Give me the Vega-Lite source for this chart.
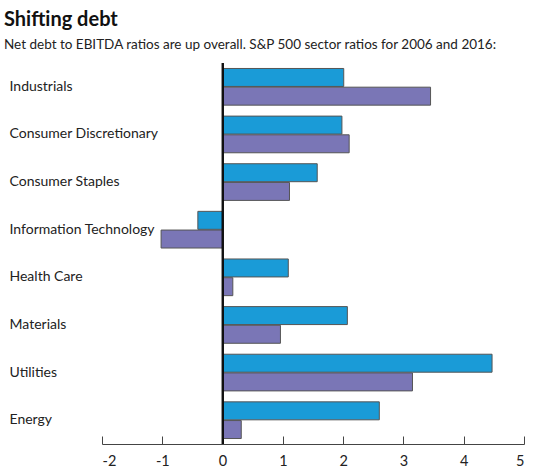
{
  "$schema": "https://vega.github.io/schema/vega-lite/v6.json",
  "width": 422,
  "height": 381,
  "autosize": "none",
  "padding": {"left": 102, "top": 63, "right": 20, "bottom": 28},
  "background": "white",
  "title": {
    "text": "Shifting debt",
    "subtitle": "Net debt to EBITDA ratios are up overall.  S&P 500 sector ratios for 2006 and 2016:",
    "anchor": "start",
    "frame": "group",
    "dx": -98,
    "offset": 11,
    "font": "Lato",
    "fontSize": 20,
    "fontWeight": "bold",
    "color": "#111111",
    "subtitleFont": "Lato",
    "subtitleFontSize": 13.5,
    "subtitleColor": "#222222",
    "subtitlePadding": 8
  },
  "config": {"view": {"stroke": null}},
  "data": {
    "values": [
      {"sector": "Industrials", "year": "2016", "value": 2.01},
      {"sector": "Industrials", "year": "2006", "value": 3.45},
      {"sector": "Consumer Discretionary", "year": "2016", "value": 1.98},
      {"sector": "Consumer Discretionary", "year": "2006", "value": 2.1},
      {"sector": "Consumer Staples", "year": "2016", "value": 1.57},
      {"sector": "Consumer Staples", "year": "2006", "value": 1.11},
      {"sector": "Information Technology", "year": "2016", "value": -0.41},
      {"sector": "Information Technology", "year": "2006", "value": -1.02},
      {"sector": "Health Care", "year": "2016", "value": 1.09},
      {"sector": "Health Care", "year": "2006", "value": 0.17},
      {"sector": "Materials", "year": "2016", "value": 2.07},
      {"sector": "Materials", "year": "2006", "value": 0.96},
      {"sector": "Utilities", "year": "2016", "value": 4.47},
      {"sector": "Utilities", "year": "2006", "value": 3.15},
      {"sector": "Energy", "year": "2016", "value": 2.6},
      {"sector": "Energy", "year": "2006", "value": 0.31}
    ]
  },
  "encoding": {
    "x": {
      "field": "value",
      "type": "quantitative",
      "scale": {"domain": [-2, 5], "nice": false, "zero": false},
      "axis": {
        "title": null,
        "values": [-2, -1, 0, 1, 2, 3, 4, 5],
        "labelExpr": "'' + datum.value",
        "grid": false,
        "domainColor": "#444444",
        "tickColor": "#444444",
        "tickSize": -8,
        "labelPadding": 18,
        "labelFont": "Lato",
        "labelFontSize": 14.5,
        "labelColor": "#222222"
      }
    }
  },
  "layer": [
    {
      "mark": {"type": "bar", "stroke": "#555555", "strokeWidth": 1},
      "encoding": {
        "y": {
          "field": "sector",
          "type": "nominal",
          "sort": ["Industrials", "Consumer Discretionary", "Consumer Staples", "Information Technology", "Health Care", "Materials", "Utilities", "Energy"],
          "scale": {"paddingInner": 0.23, "paddingOuter": 0.115},
          "axis": {
            "title": null,
            "ticks": false,
            "domain": false,
            "labelAlign": "left",
            "labelPadding": 93,
            "labelFont": "Lato",
            "labelFontSize": 14,
            "labelColor": "#222222",
            "labelLimit": 200
          }
        },
        "yOffset": {"field": "year", "type": "nominal", "sort": ["2016", "2006"], "scale": {"paddingInner": 0.04}},
        "color": {
          "field": "year",
          "type": "nominal",
          "scale": {"domain": ["2006", "2016"], "range": ["#7a76b6", "#1a9bd7"]},
          "legend": null
        }
      }
    },
    {
      "mark": {"type": "rule", "color": "#111111", "strokeWidth": 1.2},
      "encoding": {"x": {"datum": 0}}
    }
  ]
}
